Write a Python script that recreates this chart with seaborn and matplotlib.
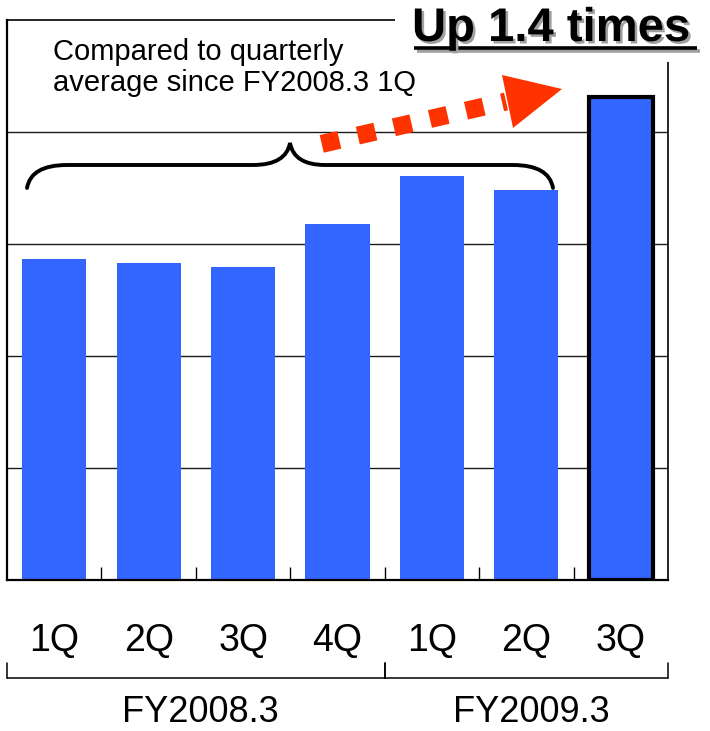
import numpy as np
import pandas as pd
import matplotlib
matplotlib.use("Agg")
import matplotlib.pyplot as plt
import matplotlib.patheffects as pe
from matplotlib.lines import Line2D
from matplotlib.patches import Polygon, Rectangle, PathPatch
from matplotlib.path import Path
from matplotlib.transforms import Affine2D, blended_transform_factory
import seaborn as sns

# ---- data -------------------------------------------------------------
quarters = ["1Q", "2Q", "3Q", "4Q", "1Q", "2Q", "3Q"]
fiscal_years = ["FY2008.3"] * 4 + ["FY2009.3"] * 3
values = [2.86, 2.83, 2.79, 3.18, 3.61, 3.48, 4.31]

note_lines = ["Compared to quarterly", "average since FY2008.3 1Q"]
headline = "Up 1.4 times"

BAR_BLUE = "#3366FF"
ARROW_RED = "#FF3300"

sns.set_style("white")
plt.rcParams["font.family"] = ["Liberation Sans", "DejaVu Sans"]
plt.rcParams["text.color"] = "black"

W, H = 710, 731
fig = plt.figure(figsize=(W / 100, H / 100), dpi=100)
ax = fig.add_axes([7 / W, (H - 579.5) / H, (668 - 7) / W, (579.5 - 20) / H])

# pixel-style coordinates (origin top-left) for decorations
px = Affine2D().scale(1 / W, -1 / H).translate(0, 1) + fig.transFigure
x_px = blended_transform_factory(ax.transData, px)

df = pd.DataFrame({
    "period": [f"{fy} {q}" for fy, q in zip(fiscal_years, quarters)],
    "value": values,
})
sns.barplot(data=df, x="period", y="value", color=BAR_BLUE, saturation=1,
            width=0.68, errorbar=None, linewidth=0, ax=ax)

# highlight the latest quarter
last = ax.patches[len(values) - 1]
last.set_edgecolor("black")
last.set_linewidth(3)

ax.set_xlim(-0.5, len(values) - 0.5)
ax.set_ylim(0, 5)
ax.set_xlabel("")
ax.set_ylabel("")

ax.set_yticks([1, 2, 3, 4])
ax.yaxis.grid(True, color="#1a1a1a", linewidth=1.0)
ax.xaxis.grid(False)
ax.set_axisbelow(True)
ax.tick_params(axis="y", length=0, labelleft=False)
ax.set_xticks(np.arange(0.5, len(values) - 1, 1.0))
ax.tick_params(axis="x", direction="in", length=9.5, width=1.0,
               color="black", labelbottom=False, bottom=True)

for side, lw in [("left", 1.6), ("bottom", 1.6), ("top", 1.2), ("right", 1.2)]:
    ax.spines[side].set_visible(True)
    ax.spines[side].set_color("black")
    ax.spines[side].set_linewidth(lw)

# quarter labels
for i, q in enumerate(quarters):
    ax.text(i, 651, q, transform=x_px, ha="center", va="baseline",
            fontsize=27, color="black", clip_on=False)

# fiscal-year group brackets
groups = []
for i, fy in enumerate(fiscal_years):
    if groups and groups[-1][0] == fy:
        groups[-1][2] = i
    else:
        groups.append([fy, i, i])
for fy, start, end in groups:
    x0, x1 = start - 0.5, end + 0.5
    ax.add_line(Line2D([x0, x1], [678, 678], transform=x_px, color="black",
                       lw=1.1, clip_on=False))
    for xb in (x0, x1):
        ax.add_line(Line2D([xb, xb], [663, 678], transform=x_px,
                           color="black", lw=1.1, clip_on=False))
    ax.text((start + end) / 2 + 0.05, 722, fy, transform=x_px, ha="center",
            va="baseline", fontsize=26, color="black", clip_on=False)

# explanatory note
fig.text(53, 60, note_lines[0], transform=px, fontsize=21, va="baseline",
         color="black")
fig.text(53, 91, note_lines[1], transform=px, fontsize=21, va="baseline",
         color="black")

# curly brace over the earlier quarters
brace_verts = [(27, 188), (31, 165), (67, 165), (253, 165), (286, 165),
               (290, 143), (294, 165), (325, 165), (513, 165), (549, 165),
               (553, 188)]
brace_codes = [Path.MOVETO, Path.CURVE3, Path.CURVE3, Path.LINETO,
               Path.CURVE3, Path.CURVE3, Path.CURVE3, Path.CURVE3,
               Path.LINETO, Path.CURVE3, Path.CURVE3]
fig.add_artist(PathPatch(Path(brace_verts, brace_codes), transform=px,
                         facecolor="none", edgecolor="black", lw=2.8,
                         capstyle="round", joinstyle="miter", zorder=3))

# dotted growth arrow
fig.add_artist(Line2D([321.7, 506], [143.9, 101.5], transform=px,
                      color=ARROW_RED, lw=13, linestyle=(0, (1.0, 1.05)),
                      dash_capstyle="butt", zorder=3))
fig.add_artist(Polygon([(502, 75), (513, 128), (562, 89)], closed=True,
                       transform=px, facecolor=ARROW_RED, edgecolor="none",
                       zorder=3))

# headline panel
fig.add_artist(Rectangle((395, 0), 315, 62, transform=px, facecolor="white",
                         edgecolor="none", zorder=5))
shadow = [pe.withSimplePatchShadow(offset=(1.8, -1.8), shadow_rgbFace="#a0a0a0",
                                   alpha=1.0)]
fig.text(412, 41, headline, transform=px, fontsize=34, fontweight="bold",
         va="baseline", ha="left", color="black", zorder=6,
         path_effects=shadow)
fig.add_artist(Line2D([414, 697], [48, 48], transform=px, color="black",
                      lw=2.6, solid_capstyle="butt", zorder=6,
                      path_effects=[pe.SimpleLineShadow(offset=(1.8, -1.8),
                                                        shadow_color="#a0a0a0",
                                                        alpha=1.0),
                                    pe.Normal()]))

fig.savefig("out.png", dpi=100)
